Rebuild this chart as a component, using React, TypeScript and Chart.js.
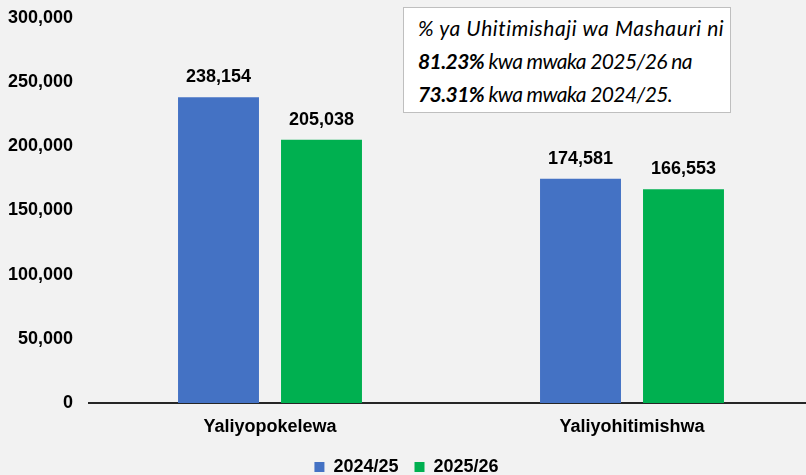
import React, { useEffect, useRef } from "react";
import { Chart, registerables } from "chart.js";

Chart.register(...registerables);

const categories = ["Yaliyopokelewa", "Yaliyohitimishwa"];
const seriesNames = ["2024/25", "2025/26"];
const values2024 = [238154, 174581];
const values2025 = [205038, 166553];
const yTicks = [0, 50000, 100000, 150000, 200000, 250000, 300000];
const colors = ["#4472C4", "#00B050"];

const fmt = (v: number) => v.toLocaleString("en-US");
const FONT = "'Liberation Sans', Arial, sans-serif";

const dataLabels = {
  id: "dataLabels",
  afterDatasetsDraw(chart: any) {
    const ctx = chart.ctx;
    ctx.save();
    ctx.font = `bold 18px ${FONT}`;
    ctx.fillStyle = "#000";
    ctx.textAlign = "center";
    ctx.textBaseline = "middle";
    chart.data.datasets.forEach((ds: any, i: number) => {
      const meta = chart.getDatasetMeta(i);
      meta.data.forEach((bar: any, j: number) => {
        ctx.fillText(fmt(ds.data[j]), bar.x, bar.y - 20);
      });
    });
    ctx.restore();
  },
};

export default function App() {
  const ref = useRef<HTMLCanvasElement>(null);
  useEffect(() => {
    const chart = new Chart(ref.current!, {
      type: "bar",
      data: {
        labels: categories,
        datasets: [
          { label: seriesNames[0], data: values2024, backgroundColor: colors[0], borderWidth: 0 },
          { label: seriesNames[1], data: values2025, backgroundColor: colors[1], borderWidth: 0 },
        ],
      },
      plugins: [dataLabels],
      options: {
        animation: false,
        responsive: false,
        maintainAspectRatio: false,
        layout: { padding: 0 },
        datasets: { bar: { categoryPercentage: 0.569, barPercentage: 0.786 } },
        plugins: {
          legend: {
            position: "bottom",
            labels: { boxWidth: 10, boxHeight: 10, padding: 16, color: "#000", font: { family: FONT, size: 18, weight: "bold" } },
          },
          tooltip: { enabled: false },
        },
        scales: {
          x: {
            afterFit: (s: any) => { s.height = 39; },
            grid: { display: false, drawTicks: false },
            border: { display: true, color: "#262626", width: 2 },
            ticks: { color: "#000", padding: 13, font: { family: FONT, size: 18, weight: "bold" } },
          },
          y: {
            min: 0,
            max: 300000,
            afterFit: (s: any) => { s.width = 89; },
            afterBuildTicks: (s: any) => { s.ticks = yTicks.map((v) => ({ value: v })); },
            grid: { display: false, drawTicks: false },
            border: { display: false },
            ticks: { color: "#000", padding: 16, callback: (v: any) => fmt(Number(v)), font: { family: FONT, size: 18, weight: "bold" } },
          },
        },
      },
    } as any);
    return () => chart.destroy();
  }, []);
  return (
    <div style={{ position: "fixed", left: 0, top: 0, width: 806, height: 475, background: "#F2F2F2", overflow: "hidden" }}>
      <canvas ref={ref} width={813} height={495} style={{ position: "absolute", left: 0, top: -9 }} />
      <div
        style={{
          position: "absolute",
          left: 403,
          top: 7,
          width: 328,
          height: 106,
          background: "#FFFFFF",
          border: "1.5px solid #BFBFBF",
          boxSizing: "border-box",
          fontFamily: "Lato, 'Open Sans', sans-serif",
          fontStyle: "italic",
          fontSize: 21,
          lineHeight: "33px",
          color: "#000",
          padding: "3px 0 0 14px",
          whiteSpace: "nowrap",
        }}
      >
        <div style={{ letterSpacing: "0.6px" }}>% ya Uhitimishaji wa Mashauri ni</div>
        <div style={{ letterSpacing: "-0.6px" }}><b>81.23%</b> kwa mwaka 2025/26 na</div>
        <div style={{ letterSpacing: "-0.6px" }}><b>73.31%</b> kwa mwaka 2024/25.</div>
      </div>
    </div>
  );
}
